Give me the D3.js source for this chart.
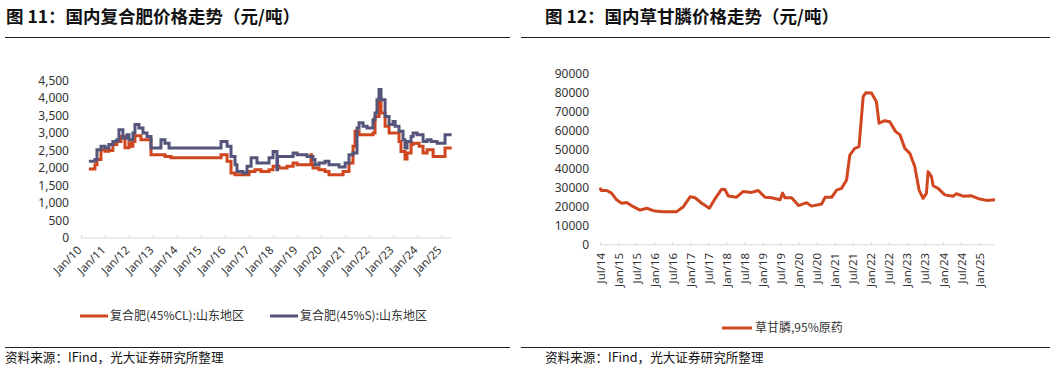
<!DOCTYPE html>
<html>
<head>
<meta charset="utf-8">
<script src="https://cdn.jsdelivr.net/npm/d3@7"></script>
<style>
  body { margin: 0; background: #fff; }
  svg text { font-family: "Noto Sans", "Noto Sans CJK SC", sans-serif; fill: #333; }
</style>
</head>
<body>
<div id="chart"></div>
<script>
// ---- data ----
// fig 11: compound fertilizer price, Shandong (yuan/ton)
const clDates = ["2010-05-01","2010-08-01","2010-09-01","2010-11-01","2011-01-01","2011-03-01","2011-05-01","2011-07-01","2011-09-01","2011-11-01",
  "2012-01-01","2012-02-01","2012-03-01","2012-04-01","2012-07-01","2012-12-01","2013-07-01","2013-10-01","2015-11-01","2016-02-01",
  "2016-04-01","2016-06-01","2017-01-01","2017-04-01","2017-07-01","2017-11-01","2018-01-01","2018-04-01","2018-08-01","2018-11-01",
  "2019-01-01","2019-08-01","2019-08-10","2019-09-01","2019-12-01","2020-03-01","2020-05-01","2020-12-01","2021-03-01","2021-05-01",
  "2021-06-01","2021-08-01","2022-03-01","2022-04-01","2022-06-01","2022-07-01","2022-09-01","2022-11-01","2023-04-01","2023-05-01",
  "2023-07-01","2023-08-01","2023-10-01","2023-11-01","2024-02-01","2024-04-01","2024-06-01","2024-09-01","2025-03-01","2025-06-10"];
const clValues = [1970,2090,2240,2520,2480,2500,2670,2760,2900,2580,
  2720,2620,2760,2920,2810,2380,2330,2290,2380,2190,
  1860,1810,1900,1950,1900,1950,2050,2000,2050,2140,
  2090,2380,2090,2000,1950,1900,1810,1900,2140,2620,
  3050,2950,3000,3470,4000,3570,3190,3000,2760,2470,
  2260,2430,2670,2710,2620,2430,2520,2330,2570,2570];

const sDates = ["2010-05-01","2010-08-01","2010-09-01","2010-11-01","2011-01-01","2011-03-01","2011-05-01","2011-07-01","2011-08-01","2011-10-01",
  "2011-12-01","2012-01-01","2012-03-01","2012-04-01","2012-06-01","2012-08-01","2012-10-01","2012-12-01","2013-05-01","2013-07-01",
  "2013-09-01","2015-11-01","2016-02-01","2016-04-01","2016-06-01","2016-07-01","2016-10-01","2016-12-01","2017-02-01","2017-05-01",
  "2017-11-01","2018-01-01","2018-03-01","2018-03-10","2018-11-01","2019-01-01","2019-06-01","2019-09-01","2019-10-01","2019-12-01",
  "2020-03-01","2020-05-01","2020-10-01","2021-01-01","2021-03-01","2021-05-01","2021-07-01","2021-08-01","2021-10-01","2021-12-01",
  "2022-03-01","2022-04-01","2022-05-01","2022-06-01","2022-07-01","2022-09-01","2022-11-01","2023-01-01","2023-02-01","2023-04-01",
  "2023-06-01","2023-07-01","2023-08-01","2023-10-01","2023-11-01","2024-01-01","2024-04-01","2024-06-01","2024-08-01","2024-11-01",
  "2025-03-01","2025-06-10"];
const sValues = [2190,2240,2520,2620,2570,2670,2760,2810,3090,2860,
  2950,2810,3000,3240,3140,3000,2900,2570,2810,2710,
  2570,2760,2620,2330,2090,1900,1860,2050,2290,2140,
  2290,2470,1950,2330,2430,2380,2330,2240,2090,2140,
  2190,2090,2030,2140,2380,2430,3140,3290,3190,3140,
  3380,3570,3950,4240,3950,3470,3240,3330,3190,3050,
  2810,2570,2760,2900,3000,2950,2760,2810,2760,2710,
  2950,2950];

const leftTicksY = d3.range(0, 4501, 500);
const leftSeriesNames = ["复合肥(45%CL):山东地区", "复合肥(45%S):山东地区"];

// fig 12: glyphosate 95% technical (yuan/ton)
const glyDates = ["2014-07-04","2014-07-11","2014-09-07","2014-10-26","2014-12-16","2015-02-05","2015-03-28","2015-06-03","2015-08-10","2015-10-16",
  "2016-01-08","2016-04-01","2016-08-14","2016-10-22","2016-12-29","2017-02-17","2017-04-26","2017-07-12","2017-09-05","2017-11-13",
  "2017-12-16","2018-01-19","2018-04-13","2018-06-20","2018-09-13","2018-11-18","2019-01-25","2019-04-02","2019-06-26","2019-07-23",
  "2019-08-15","2019-10-22","2019-12-31","2020-03-22","2020-05-11","2020-08-21","2020-09-24","2020-11-30","2021-01-19","2021-03-10",
  "2021-04-30","2021-06-02","2021-07-22","2021-09-03","2021-09-17","2021-10-15","2021-11-10","2022-01-07","2022-02-26","2022-03-25",
  "2022-05-21","2022-07-11","2022-09-09","2022-10-22","2022-12-11","2023-01-30","2023-03-21","2023-05-04","2023-06-13","2023-07-17",
  "2023-08-03","2023-09-06","2023-09-23","2023-11-12","2024-01-19","2024-04-11","2024-05-16","2024-07-22","2024-10-15","2025-01-07",
  "2025-03-16","2025-06-10"];
const glyValues = [30000,28500,28500,27100,23600,21800,22200,20000,18200,19200,
  17700,17400,17400,20000,25200,24700,21800,19200,24000,29200,
  29000,25600,25000,28000,27500,28500,25000,24700,23600,27100,
  24700,24700,20600,22100,20300,21400,24900,24900,28700,29600,
  34000,47100,50600,51500,60200,77800,79800,79600,75100,63800,
  65100,64600,59400,57700,50600,48000,41100,28700,24400,27000,
  38400,35800,31000,29600,26200,25500,26800,25500,25700,24000,
  23300,23600];

const rightTicksY = d3.range(0, 90001, 10000);
const rightSeriesName = "草甘膦,95%原药";

const titles = ["图 11：国内复合肥价格走势（元/吨）", "图 12：国内草甘膦价格走势（元/吨）"];
const sourceText = "资料来源：IFind，光大证券研究所整理";

const RED = "#d0461f";
const PURPLE = "#55557b";
const AXIS_GRAY = "#d9d9d9";

const parse = d3.timeParse("%Y-%m-%d");

const svg = d3.select("#chart").append("svg")
  .attr("width", 1054).attr("height", 369);
svg.append("rect").attr("width", 1054).attr("height", 369).attr("fill", "#fff");

// ---- frame: titles, rules, source ----
const panels = [{x: 6, x1: 5, x2: 510, sx: 5}, {x: 545, x1: 521, x2: 1050, sx: 545}];
panels.forEach((p, i) => {
  svg.append("text")
    .attr("x", p.x).attr("y", 23)
    .style("font-family", "'Noto Sans CJK SC', sans-serif")
    .style("font-size", "17.5px").style("font-weight", "bold").style("fill", "#111")
    .text(titles[i]);
  svg.append("line").attr("x1", p.x1).attr("x2", p.x2).attr("y1", 37.5).attr("y2", 37.5)
    .attr("stroke", "#222").attr("stroke-width", 1);
  svg.append("line").attr("x1", p.x1).attr("x2", p.x2).attr("y1", 347.5).attr("y2", 347.5)
    .attr("stroke", "#222").attr("stroke-width", 1);
  svg.append("text")
    .attr("x", p.sx).attr("y", 362)
    .style("font-family", "'Noto Sans CJK SC', sans-serif")
    .style("font-size", "12.6px").style("fill", "#111")
    .text(sourceText);
});

// ---- left chart ----
const xL = d3.scaleTime().domain([parse("2010-01-01"), parse("2025-06-15")]).range([81, 452]);
const yL = d3.scaleLinear().domain([0, 4500]).range([238, 80.5]);

const gL = svg.append("g");
gL.append("g")
  .attr("transform", "translate(69,0)")
  .call(d3.axisLeft(yL).tickValues(leftTicksY).tickFormat(d3.format(",")).tickSize(0).tickPadding(0))
  .call(g => g.select(".domain").remove())
  .selectAll("text").style("font-size", "12px");

gL.append("g")
  .attr("transform", "translate(0,238)")
  .call(d3.axisBottom(xL).ticks(d3.timeYear.every(1)).tickFormat(d3.timeFormat("%b/%y")).tickSizeInner(-3).tickSizeOuter(0))
  .call(g => g.select(".domain").attr("stroke", AXIS_GRAY).attr("d", "M81,0H452"))
  .call(g => g.selectAll(".tick line").attr("stroke", AXIS_GRAY))
  .selectAll("text")
    .attr("y", 0).attr("dy", "0.35em")
    .attr("transform", "translate(-2,10) rotate(-45)")
    .style("text-anchor", "end").style("font-size", "11.5px");

const lineL = d3.line().curve(d3.curveStepAfter).x(d => xL(d[0])).y(d => yL(d[1]));
const clData = clDates.map((d, i) => [parse(d), clValues[i]]);
const sData = sDates.map((d, i) => [parse(d), sValues[i]]);

gL.append("path").datum(clData).attr("d", lineL)
  .attr("fill", "none").attr("stroke", RED).attr("stroke-width", 3);
gL.append("path").datum(sData).attr("d", lineL)
  .attr("fill", "none").attr("stroke", PURPLE).attr("stroke-width", 3);

// left legend
const legL = [{x: 80, c: RED}, {x: 270, c: PURPLE}];
legL.forEach((l, i) => {
  svg.append("line").attr("x1", l.x).attr("x2", l.x + 28).attr("y1", 316).attr("y2", 316)
    .attr("stroke", l.c).attr("stroke-width", 3);
  svg.append("text").attr("x", l.x + 30).attr("y", 316).attr("dy", "0.35em")
    .style("font-family", "'Noto Sans CJK SC', sans-serif")
    .style("font-size", "12px").style("fill", "#333")
    .text(leftSeriesNames[i]);
});

// ---- right chart ----
const xR = d3.scaleTime().domain([parse("2014-07-01"), parse("2025-06-10")]).range([600, 995]);
const yR = d3.scaleLinear().domain([0, 90000]).range([244.8, 73.3]);

const gR = svg.append("g");
gR.append("g")
  .attr("transform", "translate(589,0)")
  .call(d3.axisLeft(yR).tickValues(rightTicksY).tickFormat(d3.format("d")).tickSize(0).tickPadding(0))
  .call(g => g.select(".domain").remove())
  .selectAll("text").style("font-size", "12px");

const halfYears = d3.timeMonth.range(parse("2014-07-01"), parse("2025-02-01"), 6);
gR.append("g")
  .attr("transform", "translate(0,244.8)")
  .call(d3.axisBottom(xR).tickValues(halfYears).tickFormat(d3.timeFormat("%b/%y")).tickSizeInner(-3).tickSizeOuter(0))
  .call(g => g.select(".domain").attr("stroke", AXIS_GRAY).attr("d", "M600,0H995"))
  .call(g => g.selectAll(".tick line").attr("stroke", AXIS_GRAY))
  .selectAll("text")
    .attr("y", 0).attr("dy", "0.35em")
    .attr("transform", "translate(0,8) rotate(-90)")
    .style("text-anchor", "end").style("font-size", "11.5px");

const lineR = d3.line().x(d => xR(d[0])).y(d => yR(d[1]));
const glyData = glyDates.map((d, i) => [parse(d), glyValues[i]]);
gR.append("path").datum(glyData).attr("d", lineR)
  .attr("fill", "none").attr("stroke", RED).attr("stroke-width", 3)
  .attr("stroke-linejoin", "round");

// right legend
svg.append("line").attr("x1", 722).attr("x2", 752).attr("y1", 328).attr("y2", 328)
  .attr("stroke", RED).attr("stroke-width", 3);
svg.append("text").attr("x", 755).attr("y", 328).attr("dy", "0.35em")
  .style("font-family", "'Noto Sans CJK SC', sans-serif")
  .style("font-size", "12px").style("fill", "#333")
  .text(rightSeriesName);
</script>
</body>
</html>
